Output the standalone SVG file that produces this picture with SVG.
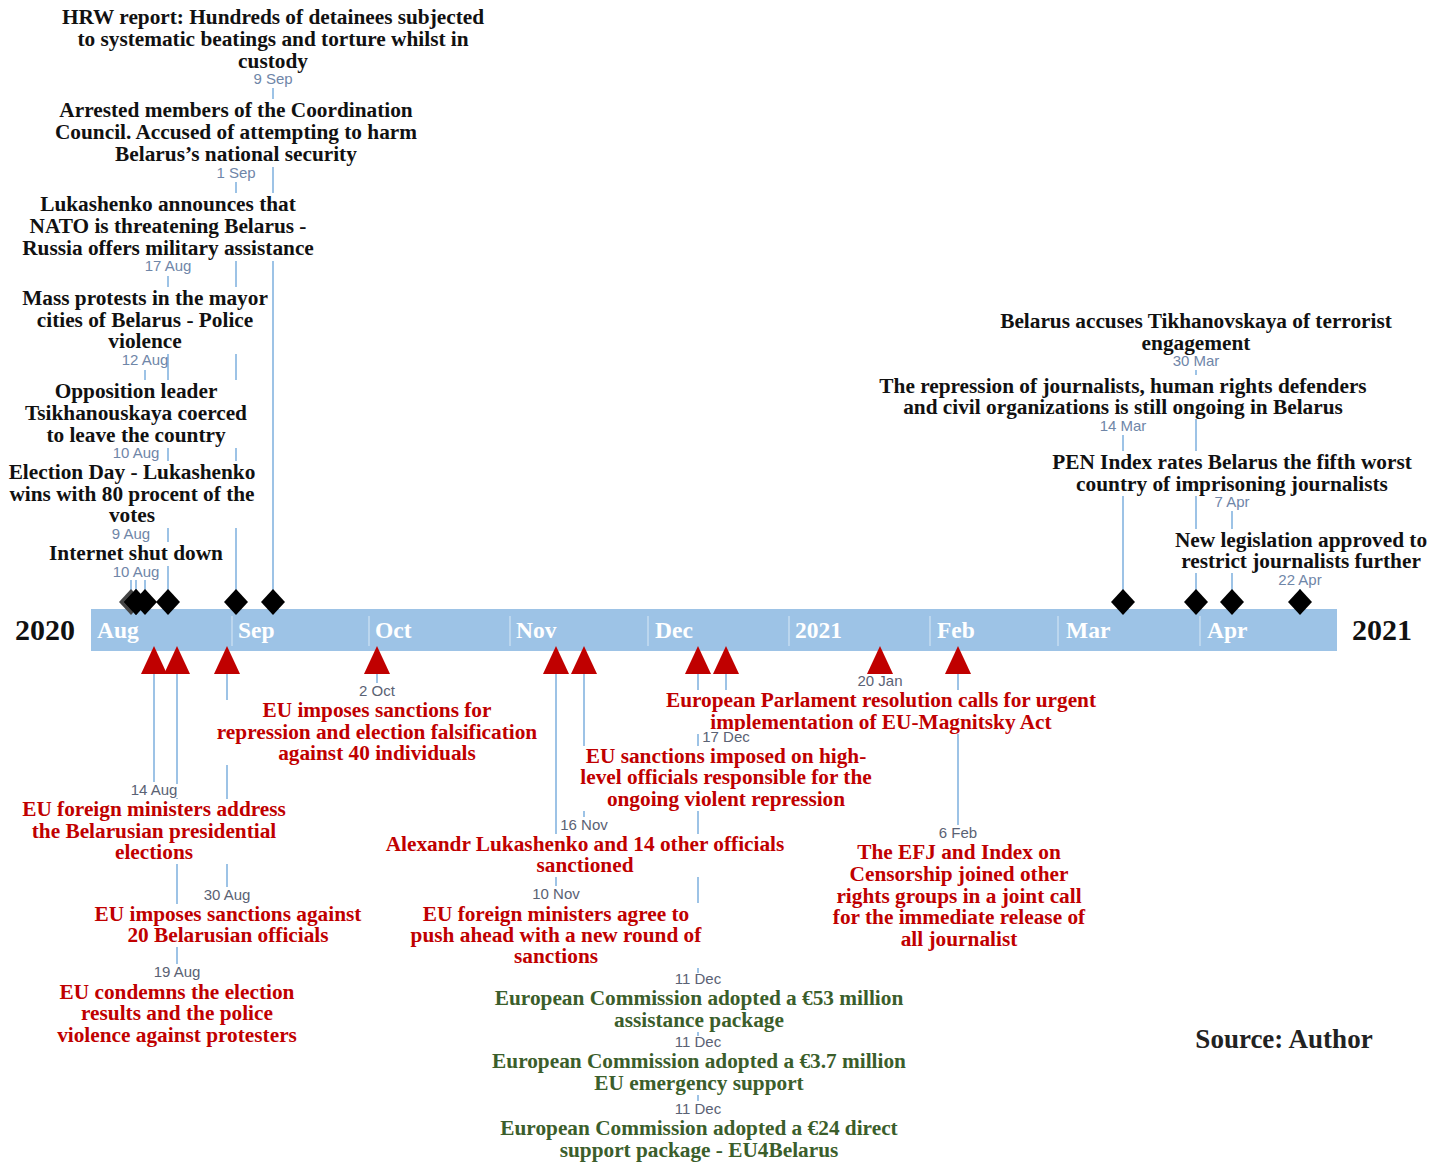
<svg xmlns="http://www.w3.org/2000/svg" width="1432" height="1162" viewBox="0 0 1432 1162">
<style>
.ev{font-family:"Liberation Serif","Times New Roman",serif;font-weight:bold;font-size:21.3px;text-anchor:middle}
.blk{fill:#111}
.red{fill:#C00000}
.grn{fill:#3B5E2B}
.dt{font-family:"Liberation Sans",Arial,sans-serif;font-size:15px;text-anchor:middle;fill:#6F86A8}
.db{font-family:"Liberation Sans",Arial,sans-serif;font-size:15px;text-anchor:middle;fill:#5A6274}
.bg{fill:#fff}
.conn line{stroke:#9DC3E6;stroke-width:2}
.sep{stroke:#C6DCF1;stroke-width:1.5}
.mon{font-family:"Liberation Serif","Times New Roman",serif;font-weight:bold;font-size:23.5px;fill:#fff}
.yr{font-family:"Liberation Serif","Times New Roman",serif;font-weight:bold;font-size:30px;fill:#111;text-anchor:middle}
</style>
<defs>
<path id="dia" d="M0,-13 L12,0 L0,13 L-12,0 Z"/>
<path id="tri" d="M0,-14 L13,14 L-13,14 Z"/>
</defs>
<rect width="1432" height="1162" fill="#fff"/>

<g id="axis">
<rect x="91" y="609" width="1246" height="42" fill="#9DC3E6"/>
<line class="sep" x1="232" y1="616" x2="232" y2="646"/>
<line class="sep" x1="369" y1="616" x2="369" y2="646"/>
<line class="sep" x1="510" y1="616" x2="510" y2="646"/>
<line class="sep" x1="648" y1="616" x2="648" y2="646"/>
<line class="sep" x1="789" y1="616" x2="789" y2="646"/>
<line class="sep" x1="930" y1="616" x2="930" y2="646"/>
<line class="sep" x1="1058" y1="616" x2="1058" y2="646"/>
<line class="sep" x1="1200" y1="616" x2="1200" y2="646"/>
<text class="mon" x="97" y="638">Aug</text>
<text class="mon" x="238" y="638">Sep</text>
<text class="mon" x="375" y="638">Oct</text>
<text class="mon" x="516" y="638">Nov</text>
<text class="mon" x="655" y="638">Dec</text>
<text class="mon" x="795" y="638">2021</text>
<text class="mon" x="937" y="638">Feb</text>
<text class="mon" x="1066" y="638">Mar</text>
<text class="mon" x="1207" y="638">Apr</text>
<text class="yr" x="45" y="640">2020</text>
<text class="yr" x="1382" y="640">2021</text>
</g>

<g id="connectors" class="conn">
<line x1="273" y1="88" x2="273" y2="600"/>
<line x1="236" y1="182" x2="236" y2="600"/>
<line x1="168" y1="276" x2="168" y2="600"/>
<line x1="145" y1="370" x2="145" y2="600"/>
<line x1="136" y1="462" x2="136" y2="600"/>
<line x1="131" y1="543" x2="131" y2="600"/>
<line x1="1196" y1="370" x2="1196" y2="600"/>
<line x1="1123" y1="435" x2="1123" y2="600"/>
<line x1="1232" y1="511" x2="1232" y2="600"/>
<line x1="1300" y1="589" x2="1300" y2="600"/>
<line x1="154" y1="674" x2="154" y2="782"/>
<line x1="177" y1="674" x2="177" y2="964"/>
<line x1="227" y1="674" x2="227" y2="887"/>
<line x1="377" y1="674" x2="377" y2="683"/>
<line x1="556" y1="674" x2="556" y2="886"/>
<line x1="584" y1="674" x2="584" y2="817"/>
<line x1="698" y1="674" x2="698" y2="1101"/>
<line x1="726" y1="674" x2="726" y2="729"/>
<line x1="958" y1="674" x2="958" y2="825"/>
</g>

<g id="markers">
<use href="#dia" x="131" y="602" fill="#454545"/>
<use href="#dia" x="136" y="602" fill="#000"/>
<use href="#dia" x="136" y="602" fill="#000"/>
<use href="#dia" x="145" y="602" fill="#000"/>
<use href="#dia" x="168" y="602" fill="#000"/>
<use href="#dia" x="236" y="602" fill="#000"/>
<use href="#dia" x="273" y="602" fill="#000"/>
<use href="#dia" x="1123" y="602" fill="#000"/>
<use href="#dia" x="1196" y="602" fill="#000"/>
<use href="#dia" x="1232" y="602" fill="#000"/>
<use href="#dia" x="1300" y="602" fill="#000"/>
<use href="#tri" x="154" y="660" fill="#C00000"/>
<use href="#tri" x="177" y="660" fill="#C00000"/>
<use href="#tri" x="227" y="660" fill="#C00000"/>
<use href="#tri" x="377" y="660" fill="#C00000"/>
<use href="#tri" x="556" y="660" fill="#C00000"/>
<use href="#tri" x="584" y="660" fill="#C00000"/>
<use href="#tri" x="698" y="660" fill="#C00000"/>
<use href="#tri" x="726" y="660" fill="#C00000"/>
<use href="#tri" x="880" y="660" fill="#C00000"/>
<use href="#tri" x="958" y="660" fill="#C00000"/>
</g>

<g id="ev-hrw">
<rect class="bg" x="58" y="6" width="430" height="68"/>
<text class="ev blk"><tspan x="273" y="24">HRW report: Hundreds of detainees subjected</tspan><tspan x="273" y="46">to systematic beatings and torture whilst in</tspan><tspan x="273" y="68">custody</tspan></text>
<rect class="bg" x="253" y="73" width="40" height="14"/>
<text class="dt" x="273" y="84">9 Sep</text>
</g>
<g id="ev-arrested">
<rect class="bg" x="53" y="99" width="367" height="68"/>
<text class="ev blk"><tspan x="236" y="117">Arrested members of the Coordination</tspan><tspan x="236" y="139">Council. Accused of attempting to harm</tspan><tspan x="236" y="161">Belarus’s national security</tspan></text>
<rect class="bg" x="216" y="167" width="40" height="14"/>
<text class="dt" x="236" y="178">1 Sep</text>
</g>
<g id="ev-nato">
<rect class="bg" x="20" y="193" width="297" height="68"/>
<text class="ev blk"><tspan x="168" y="211">Lukashenko announces that</tspan><tspan x="168" y="233">NATO is threatening Belarus -</tspan><tspan x="168" y="255">Russia offers military assistance</tspan></text>
<rect class="bg" x="144" y="260" width="48" height="14"/>
<text class="dt" x="168" y="271">17 Aug</text>
</g>
<g id="ev-protests">
<rect class="bg" x="20" y="287" width="251" height="67"/>
<text class="ev blk"><tspan x="145" y="305">Mass protests in the mayor</tspan><tspan x="145" y="327">cities of Belarus - Police</tspan><tspan x="145" y="348">violence</tspan></text>
<rect class="bg" x="121" y="354" width="46" height="14"/>
<text class="dt" x="145" y="365">12 Aug</text>
</g>
<g id="ev-opposition">
<rect class="bg" x="23" y="380" width="227" height="68"/>
<text class="ev blk"><tspan x="136" y="398">Opposition leader</tspan><tspan x="136" y="420">Tsikhanouskaya coerced</tspan><tspan x="136" y="442">to leave the country</tspan></text>
<rect class="bg" x="112" y="447" width="48" height="14"/>
<text class="dt" x="136" y="458">10 Aug</text>
</g>
<g id="ev-election">
<rect class="bg" x="6" y="461" width="253" height="67"/>
<text class="ev blk"><tspan x="132" y="479">Election Day - Lukashenko</tspan><tspan x="132" y="501">wins with 80 procent of the</tspan><tspan x="132" y="522">votes</tspan></text>
<rect class="bg" x="111" y="528" width="40" height="14"/>
<text class="dt" x="131" y="539">9 Aug</text>
</g>
<g id="ev-internet">
<rect class="bg" x="46" y="542" width="181" height="24"/>
<text class="ev blk"><tspan x="136" y="560">Internet shut down</tspan></text>
<rect class="bg" x="112" y="566" width="48" height="14"/>
<text class="dt" x="136" y="577">10 Aug</text>
</g>

<g id="ev-terrorist">
<rect class="bg" x="996" y="310" width="400" height="45"/>
<text class="ev blk"><tspan x="1196" y="328">Belarus accuses Tikhanovskaya of terrorist</tspan><tspan x="1196" y="350">engagement</tspan></text>
<rect class="bg" x="1172" y="355" width="48" height="14"/>
<text class="dt" x="1196" y="366">30 Mar</text>
</g>
<g id="ev-repression">
<rect class="bg" x="875" y="375" width="496" height="44"/>
<text class="ev blk"><tspan x="1123" y="393">The repression of journalists, human rights defenders</tspan><tspan x="1123" y="414">and civil organizations is still ongoing in Belarus</tspan></text>
<rect class="bg" x="1099" y="420" width="48" height="14"/>
<text class="dt" x="1123" y="431">14 Mar</text>
</g>
<g id="ev-pen">
<rect class="bg" x="1048" y="451" width="369" height="45"/>
<text class="ev blk"><tspan x="1232" y="469">PEN Index rates Belarus the fifth worst</tspan><tspan x="1232" y="491">country of imprisoning journalists</tspan></text>
<rect class="bg" x="1213" y="496" width="38" height="14"/>
<text class="dt" x="1232" y="507">7 Apr</text>
</g>
<g id="ev-legislation">
<rect class="bg" x="1170" y="529" width="262" height="44"/>
<text class="ev blk"><tspan x="1301" y="547">New legislation approved to</tspan><tspan x="1301" y="568">restrict journalists further</tspan></text>
<rect class="bg" x="1277" y="574" width="46" height="14"/>
<text class="dt" x="1300" y="585">22 Apr</text>
</g>

<g id="ev-2oct">
<rect class="bg" x="358" y="685" width="38" height="14"/>
<text class="db" x="377" y="696">2 Oct</text>
<rect class="bg" x="212" y="700" width="331" height="65"/>
<text class="ev red"><tspan x="377" y="717">EU imposes sanctions for</tspan><tspan x="377" y="739">repression and election falsification</tspan><tspan x="377" y="760">against 40 individuals</tspan></text>
</g>
<g id="ev-20jan">
<rect class="bg" x="857" y="675" width="46" height="14"/>
<text class="db" x="880" y="686">20 Jan</text>
<rect class="bg" x="662" y="690" width="439" height="44"/>
<text class="ev red"><tspan x="881" y="707">European Parlament resolution calls for urgent</tspan><tspan x="881" y="729">implementation of EU-Magnitsky Act</tspan></text>
</g>
<g id="ev-17dec">
<rect class="bg" x="703" y="731" width="47" height="14"/>
<text class="db" x="726" y="742">17 Dec</text>
<rect class="bg" x="575" y="746" width="302" height="65"/>
<text class="ev red"><tspan x="726" y="763">EU sanctions imposed on high-</tspan><tspan x="726" y="784">level officials responsible for the</tspan><tspan x="726" y="806">ongoing violent repression</tspan></text>
</g>
<g id="ev-14aug">
<rect class="bg" x="130" y="784" width="49" height="14"/>
<text class="db" x="154" y="795">14 Aug</text>
<rect class="bg" x="18" y="799" width="274" height="65"/>
<text class="ev red"><tspan x="154" y="816">EU foreign ministers address</tspan><tspan x="154" y="838">the Belarusian presidential</tspan><tspan x="154" y="859">elections</tspan></text>
</g>
<g id="ev-16nov">
<rect class="bg" x="560" y="819" width="48" height="14"/>
<text class="db" x="584" y="830">16 Nov</text>
<rect class="bg" x="382" y="834" width="407" height="43"/>
<text class="ev red"><tspan x="585" y="851">Alexandr Lukashenko and 14 other officials</tspan><tspan x="585" y="872">sanctioned</tspan></text>
</g>
<g id="ev-6feb">
<rect class="bg" x="938" y="827" width="40" height="14"/>
<text class="db" x="958" y="838">6 Feb</text>
<rect class="bg" x="828" y="842" width="263" height="109"/>
<text class="ev red"><tspan x="959" y="859">The EFJ and Index on</tspan><tspan x="959" y="881">Censorship joined other</tspan><tspan x="959" y="903">rights groups in a joint call</tspan><tspan x="959" y="924">for the immediate release of</tspan><tspan x="959" y="946">all journalist</tspan></text>
</g>
<g id="ev-30aug">
<rect class="bg" x="203" y="889" width="48" height="14"/>
<text class="db" x="227" y="900">30 Aug</text>
<rect class="bg" x="90" y="904" width="276" height="43"/>
<text class="ev red"><tspan x="228" y="921">EU imposes sanctions against</tspan><tspan x="228" y="942">20 Belarusian officials</tspan></text>
</g>
<g id="ev-10nov">
<rect class="bg" x="532" y="888" width="48" height="14"/>
<text class="db" x="556" y="899">10 Nov</text>
<rect class="bg" x="405" y="903" width="302" height="65"/>
<text class="ev red"><tspan x="556" y="921">EU foreign ministers agree to</tspan><tspan x="556" y="942">push ahead with a new round of</tspan><tspan x="556" y="963">sanctions</tspan></text>
</g>
<g id="ev-19aug">
<rect class="bg" x="153" y="966" width="48" height="14"/>
<text class="db" x="177" y="977">19 Aug</text>
<rect class="bg" x="52" y="981" width="250" height="66"/>
<text class="ev red"><tspan x="177" y="999">EU condemns the election</tspan><tspan x="177" y="1020">results and the police</tspan><tspan x="177" y="1042">violence against protesters</tspan></text>
</g>
<g id="ev-11dec-a">
<rect class="bg" x="674" y="973" width="48" height="14"/>
<text class="db" x="698" y="984">11 Dec</text>
<rect class="bg" x="490" y="987" width="418" height="45"/>
<text class="ev grn"><tspan x="699" y="1005">European Commission adopted a €53 million</tspan><tspan x="699" y="1027">assistance package</tspan></text>
</g>
<g id="ev-11dec-b">
<rect class="bg" x="674" y="1036" width="48" height="14"/>
<text class="db" x="698" y="1047">11 Dec</text>
<rect class="bg" x="487" y="1050" width="423" height="45"/>
<text class="ev grn"><tspan x="699" y="1068">European Commission adopted a €3.7 million</tspan><tspan x="699" y="1090">EU emergency support</tspan></text>
</g>
<g id="ev-11dec-c">
<rect class="bg" x="674" y="1103" width="48" height="14"/>
<text class="db" x="698" y="1114">11 Dec</text>
<rect class="bg" x="495" y="1117" width="408" height="45"/>
<text class="ev grn"><tspan x="699" y="1135">European Commission adopted a €24 direct</tspan><tspan x="699" y="1157">support package - EU4Belarus</tspan></text>
</g>

<g id="source">
<text x="1284" y="1048" style="font-family:'Liberation Serif','Times New Roman',serif;font-weight:bold;font-size:27px;fill:#222;text-anchor:middle">Source: Author</text>
</g>
</svg>
